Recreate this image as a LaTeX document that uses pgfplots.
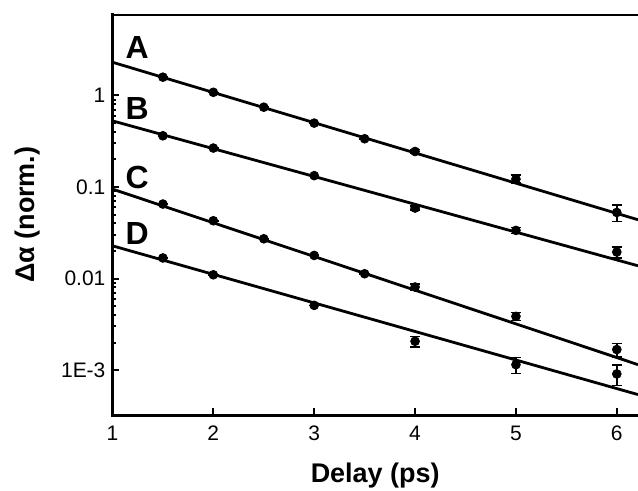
\documentclass[border=0pt]{standalone}
\usepackage{fontspec}
\setmainfont{Liberation Sans}
\usepackage{pgfplots}
\pgfplotsset{compat=1.18}

% delay (ps), signal, relative error
\pgfplotstableread{
x    y        e
1.5  1.58     0
2    1.08     0
2.5  0.743    0
3    0.498    0
3.5  0.336    0
4    0.244    0.05
5    0.122    0.10
6    0.0527   0.20
}\seriesA
\pgfplotstableread{
x    y        e
1.5  0.362    0
2    0.266    0
3    0.133    0
4    0.0589   0.05
5    0.0336   0.08
6    0.0195   0.14
}\seriesB
\pgfplotstableread{
x    y        e
1.5  0.0651   0
2    0.0428   0
2.5  0.0272   0
3    0.0179   0
3.5  0.0113   0
4    0.00809  0.08
5    0.00387  0.10
6    0.00168  0.17
}\seriesC
\pgfplotstableread{
x    y        e
1.5  0.0168   0
2    0.0110   0
3    0.00510  0
4    0.00207  0.13
5    0.00115  0.20
6    0.000911 0.25
}\seriesD

\pgfplotsset{
  datapts/.style={
    only marks, mark=*, mark size=2.2pt, black,
    error bars/y dir=both, error bars/y explicit relative,
    error bars/error mark options={rotate=90, mark size=2.6pt, line width=0.8pt},
    error bars/error bar style={line width=0.8pt}},
  fit/.style={black, line width=1.4pt, no marks},
}

\begin{document}
\begin{tikzpicture}
\begin{axis}[
  scale only axis,
  width=263pt, height=200.5pt,
  xmin=1, xmax=6.21,
  ymode=log, ymin=3.24e-4, ymax=7.65,
  axis lines*=left,
  axis line style={line width=1.5pt, line cap=rect},
  xtick={1,2,3,4,5,6},
  ytick={1e-3,0.01,0.1,1},
  yticklabels={1E-3,0.01,0.1,1},
  minor x tick num=0,
  tick align=inside,
  major tick length=3.5pt,
  minor tick length=2pt,
  every tick/.style={black, line width=1pt},
  /pgf/number format/assume math mode=true,
  tick label style={font=\fontsize{10.5}{12}\selectfont},
  xticklabel style={yshift=-2pt},
  xlabel={\textbf{Delay (ps)}},
  ylabel={\textbf{Δα (norm.)}},
  label style={font=\fontsize{13.5}{15}\selectfont},
  xlabel style={at={(axis description cs:0.5,-0.15)}, anchor=center},
  ylabel style={at={(axis description cs:-0.161,0.5)}, anchor=center},
]
% fitted exponential decays
\addplot[fit] coordinates {(1,2.30) (6.21,0.0439)};
\addplot[fit] coordinates {(1,0.527) (6.21,0.0138)};
\addplot[fit] coordinates {(1,0.0948) (6.21,0.00115)};
\addplot[fit] coordinates {(1,0.0228) (6.21,0.000542)};

% measured points
\addplot[datapts] table[x=x, y=y, y error=e] {\seriesA};
\addplot[datapts] table[x=x, y=y, y error=e] {\seriesB};
\addplot[datapts] table[x=x, y=y, y error=e] {\seriesC};
\addplot[datapts] table[x=x, y=y, y error=e] {\seriesD};

\draw[line width=1.5pt] (rel axis cs:0,1) -- (rel axis cs:1,1);

\node[font=\bfseries\fontsize{16}{16}\selectfont] at (axis cs:1.245,3.3) {A};
\node[font=\bfseries\fontsize{16}{16}\selectfont] at (axis cs:1.245,0.713) {B};
\node[font=\bfseries\fontsize{16}{16}\selectfont] at (axis cs:1.245,0.126) {C};
\node[font=\bfseries\fontsize{16}{16}\selectfont] at (axis cs:1.245,0.0309) {D};

\coordinate (bbsw) at (rel axis cs:-0.214,-0.188);
\coordinate (bbne) at (rel axis cs:1,1.036);
\end{axis}
\pgfresetboundingbox
\path (bbsw) rectangle (bbne);
\end{tikzpicture}
\end{document}
